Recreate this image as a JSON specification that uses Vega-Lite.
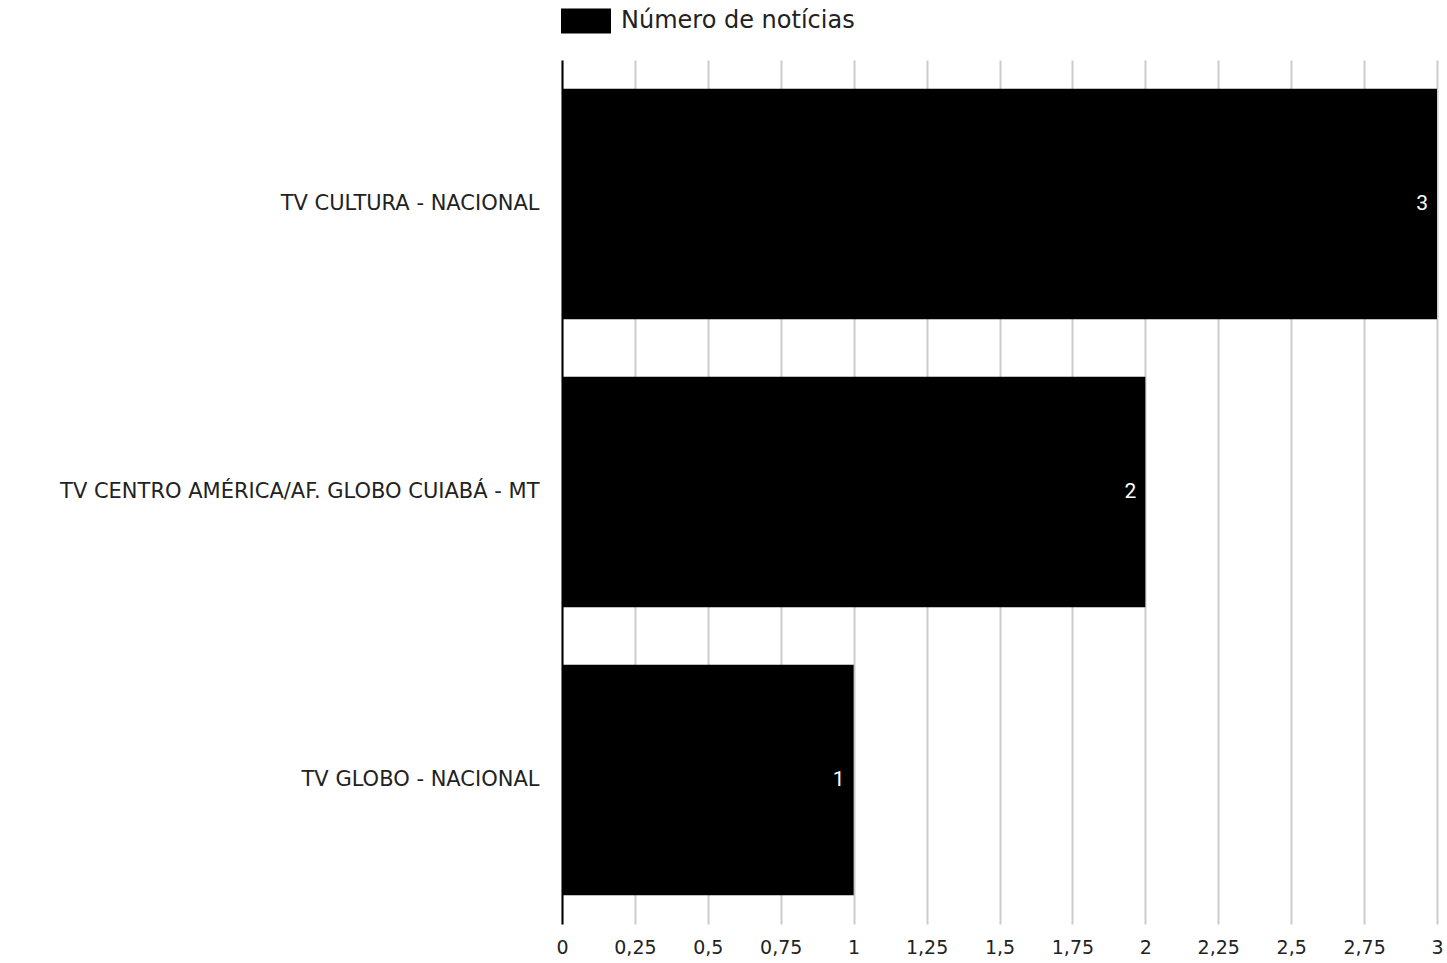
{
  "$schema": "https://vega.github.io/schema/vega-lite/v6.json",
  "width": 875,
  "height": 864,
  "autosize": {"type": "none"},
  "padding": {"left": 562, "top": 60, "right": 10, "bottom": 39},
  "background": "white",
  "config": {
    "view": {"stroke": null},
    "locale": {"number": {"decimal": ",", "thousands": ".", "grouping": [3], "currency": ["R$", ""]}},
    "font": "DejaVu Sans"
  },
  "data": {
    "values": [
      {"emissora": "TV CULTURA - NACIONAL", "noticias": 3, "serie": "Número de notícias"},
      {"emissora": "TV CENTRO AMÉRICA/AF. GLOBO CUIABÁ - MT", "noticias": 2, "serie": "Número de notícias"},
      {"emissora": "TV GLOBO - NACIONAL", "noticias": 1, "serie": "Número de notícias"}
    ]
  },
  "encoding": {
    "y": {
      "field": "emissora",
      "type": "nominal",
      "sort": null,
      "title": null,
      "scale": {"paddingInner": 0.2, "paddingOuter": 0.1},
      "axis": {
        "domain": true,
        "domainColor": "#000000",
        "domainWidth": 2,
        "ticks": false,
        "labelFont": "DejaVu Sans",
        "labelFontSize": 21,
        "labelColor": "#222222",
        "labelPadding": 23,
        "labelLimit": 600
      }
    },
    "x": {
      "field": "noticias",
      "type": "quantitative",
      "title": null,
      "scale": {"domain": [0, 3], "nice": false},
      "axis": {
        "values": [0, 0.25, 0.5, 0.75, 1, 1.25, 1.5, 1.75, 2, 2.25, 2.5, 2.75, 3],
        "format": ".2~f",
        "domain": false,
        "ticks": false,
        "grid": true,
        "gridColor": "#cccccc",
        "gridWidth": 2,
        "labelFont": "DejaVu Sans",
        "labelFontSize": 19,
        "labelColor": "#222222",
        "labelPadding": 14,
        "labelFlush": false
      }
    }
  },
  "layer": [
    {
      "mark": {"type": "bar", "color": "#000000"},
      "encoding": {
        "color": {
          "field": "serie",
          "type": "nominal",
          "scale": {"range": ["#000000"]},
          "legend": {
            "title": null,
            "orient": "none",
            "legendX": -1,
            "legendY": -64,
            "symbolType": "M-1,-0.5H1V0.5H-1Z",
            "symbolSize": 2500,
            "symbolStrokeWidth": 0,
            "labelFont": "DejaVu Sans",
            "labelFontSize": 24,
            "labelColor": "#222222",
            "labelOffset": 10,
            "labelLimit": 400
          }
        }
      }
    },
    {
      "mark": {"type": "text", "align": "right", "baseline": "middle", "dx": -9, "color": "#ffffff", "font": "Roboto", "fontSize": 21},
      "encoding": {
        "text": {"field": "noticias", "type": "quantitative"}
      }
    }
  ]
}
